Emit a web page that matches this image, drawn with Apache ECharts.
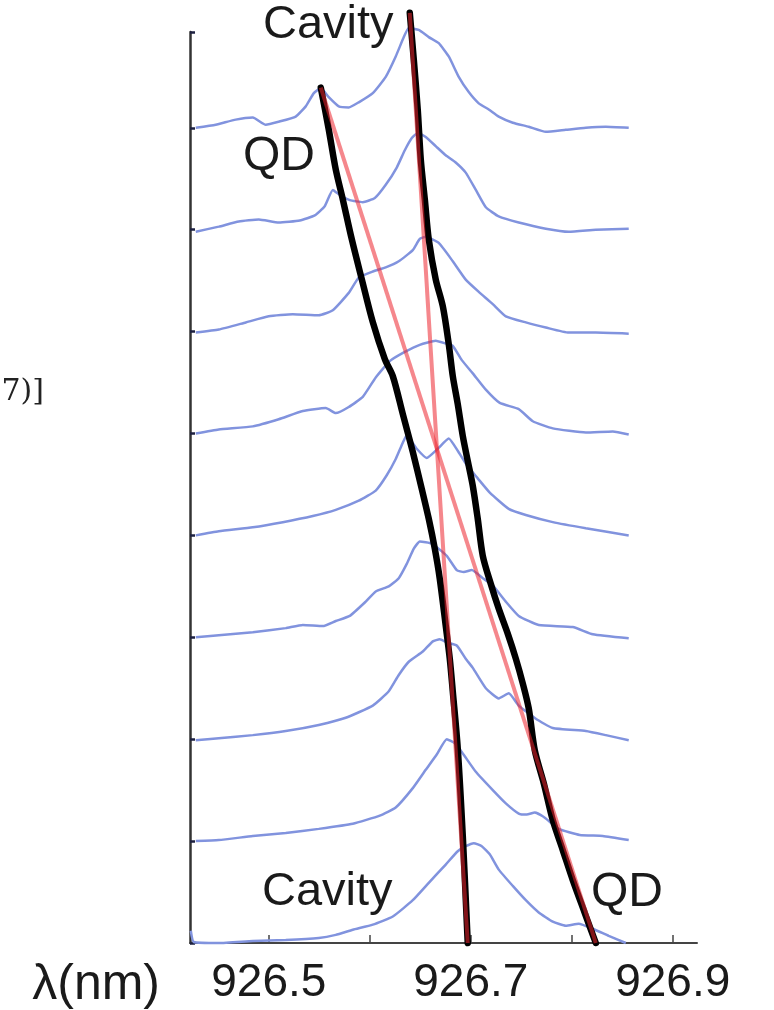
<!DOCTYPE html>
<html>
<head>
<meta charset="utf-8">
<script src="https://cdn.jsdelivr.net/npm/echarts@6/dist/echarts.min.js"></script>
<style>
html,body{margin:0;padding:0;background:#fff;}
#chart{width:774px;height:1010px;}
</style>
</head>
<body>
<div id="chart"></div>
<script>
// ---- Data (wavelength in nm, intensity normalised to the spacing between spectra) ----
const xTickValues = [926.5, 926.6, 926.7, 926.8, 926.9];
const xLabelValues = [926.5, 926.7, 926.9];
const yTickValues = [0, 1, 2, 3, 4, 5, 6, 7, 8, 8.94];

const spectrum0 = [[926.4228,0.12],[926.4257,0.01],[926.4505,0],[926.4842,0.02],[926.5168,0.03],[926.5495,0.05],[926.5663,0.08],[926.5832,0.13],[926.6030,0.18],[926.6228,0.26],[926.6426,0.42],[926.6584,0.59],[926.6752,0.77],[926.6871,0.90],[926.6950,0.95],[926.7030,0.98],[926.7109,0.95],[926.7188,0.87],[926.7277,0.72],[926.7416,0.56],[926.7545,0.42],[926.7673,0.30],[926.7812,0.21],[926.7941,0.17],[926.8069,0.19],[926.8208,0.14],[926.8366,0.07],[926.8535,0]];
const spectrum1 = [[926.4277,0],[926.4505,0.01],[926.4842,0.05],[926.5168,0.08],[926.5495,0.12],[926.5832,0.17],[926.6099,0.25],[926.6257,0.33],[926.6426,0.52],[926.6554,0.70],[926.6663,0.85],[926.6762,1.00],[926.6842,0.96],[926.6921,0.86],[926.7050,0.68],[926.7218,0.50],[926.7347,0.37],[926.7475,0.27],[926.7554,0.26],[926.7634,0.28],[926.7733,0.23],[926.7871,0.12],[926.8079,0.06],[926.8307,0.05],[926.8564,0.01]];
const spectrum2 = [[926.4277,-0.01],[926.4505,0.01],[926.4842,0.04],[926.5168,0.08],[926.5495,0.14],[926.5762,0.21],[926.6030,0.33],[926.6188,0.47],[926.6287,0.63],[926.6386,0.76],[926.6525,0.86],[926.6624,0.96],[926.6693,0.98],[926.6762,0.95],[926.6861,0.92],[926.6950,0.79],[926.7020,0.70],[926.7149,0.50],[926.7277,0.40],[926.7376,0.45],[926.7475,0.33],[926.7644,0.20],[926.7812,0.11],[926.8139,0.08],[926.8337,0.04],[926.8564,-0.01]];
const spectrum3 = [[926.4277,0],[926.4505,0.02],[926.4842,0.05],[926.5168,0.09],[926.5337,0.12],[926.5535,0.11],[926.5663,0.16],[926.5802,0.21],[926.5960,0.35],[926.6059,0.45],[926.6188,0.50],[926.6287,0.58],[926.6366,0.72],[926.6436,0.87],[926.6495,0.94],[926.6614,0.92],[926.6762,0.80],[926.6861,0.66],[926.6931,0.64],[926.7010,0.66],[926.7119,0.58],[926.7218,0.51],[926.7347,0.35],[926.7475,0.21],[926.7673,0.12],[926.8010,0.10],[926.8208,0.03],[926.8564,-0.01]];
const spectrum4 = [[926.4277,0],[926.4505,0.04],[926.4842,0.08],[926.5139,0.13],[926.5436,0.19],[926.5663,0.25],[926.5891,0.34],[926.6059,0.44],[926.6168,0.59],[926.6257,0.75],[926.6327,0.91],[926.6366,0.98],[926.6465,0.85],[926.6564,0.76],[926.6673,0.85],[926.6782,0.95],[926.6871,0.83],[926.6960,0.69],[926.7069,0.56],[926.7188,0.42],[926.7376,0.26],[926.7545,0.20],[926.7812,0.13],[926.8139,0.07],[926.8564,0]];
const spectrum5 = [[926.4277,0],[926.4505,0.04],[926.4842,0.07],[926.5099,0.14],[926.5337,0.22],[926.5564,0.25],[926.5663,0.20],[926.5792,0.26],[926.5931,0.36],[926.6059,0.55],[926.6198,0.71],[926.6347,0.80],[926.6495,0.87],[926.6653,0.91],[926.6762,0.88],[926.6822,0.86],[926.6911,0.72],[926.7020,0.59],[926.7149,0.43],[926.7287,0.30],[926.7475,0.24],[926.7614,0.12],[926.7812,0.05],[926.8139,0.01],[926.8406,0.02],[926.8564,-0.01]];
const spectrum6 = [[926.4277,-0.01],[926.4505,0.02],[926.4772,0.09],[926.5000,0.15],[926.5238,0.17],[926.5495,0.16],[926.5634,0.21],[926.5792,0.38],[926.5891,0.53],[926.6030,0.59],[926.6158,0.63],[926.6287,0.69],[926.6426,0.80],[926.6495,0.91],[926.6554,0.93],[926.6683,0.87],[926.6822,0.69],[926.6950,0.51],[926.7079,0.39],[926.7218,0.27],[926.7347,0.15],[926.7545,0.09],[926.7743,0.04],[926.7970,-0.01],[926.8238,-0.01],[926.8564,-0.02]];
const spectrum7 = [[926.4277,-0.02],[926.4505,0.03],[926.4703,0.08],[926.4901,0.10],[926.5099,0.07],[926.5307,0.09],[926.5455,0.14],[926.5554,0.23],[926.5634,0.39],[926.5703,0.34],[926.5802,0.29],[926.5931,0.27],[926.6050,0.31],[926.6158,0.44],[926.6267,0.61],[926.6347,0.78],[926.6416,0.90],[926.6475,0.95],[926.6554,0.91],[926.6653,0.82],[926.6752,0.73],[926.6851,0.66],[926.6950,0.56],[926.7050,0.39],[926.7149,0.22],[926.7277,0.13],[926.7475,0.07],[926.7743,0.01],[926.7970,-0.02],[926.8238,0],[926.8564,0.01]];
const spectrum8 = [[926.4277,0],[926.4475,0.03],[926.4673,0.08],[926.4842,0.10],[926.4970,0.03],[926.5099,0.06],[926.5267,0.11],[926.5366,0.21],[926.5446,0.34],[926.5515,0.39],[926.5594,0.30],[926.5693,0.21],[926.5792,0.20],[926.5891,0.25],[926.6030,0.34],[926.6158,0.50],[926.6257,0.70],[926.6337,0.89],[926.6386,0.98],[926.6485,0.96],[926.6584,0.89],[926.6683,0.83],[926.6782,0.70],[926.6881,0.50],[926.6980,0.35],[926.7079,0.24],[926.7178,0.18],[926.7277,0.11],[926.7416,0.05],[926.7574,0.01],[926.7743,-0.04],[926.7941,-0.02],[926.8139,0],[926.8337,0.01],[926.8564,0]];
const spectraList = [spectrum0, spectrum1, spectrum2, spectrum3, spectrum4, spectrum5, spectrum6, spectrum7, spectrum8];
const spectraOffsets = [0, 1, 2, 3, 4, 5, 6, 7, 8];

// coupled-mode branches (black), [wavelength, position on stack]
const branchLower = [[926.5515,8.394],[926.5594,7.982],[926.5663,7.591],[926.5733,7.297],[926.5822,6.905],[926.5921,6.513],[926.6030,6.092],[926.6149,5.730],[926.6228,5.563],[926.6327,5.191],[926.6426,4.819],[926.6515,4.456],[926.6584,4.163],[926.6644,3.869],[926.6693,3.575],[926.6752,3.115],[926.6792,2.791],[926.6822,2.468],[926.6871,1.910],[926.6921,1.048],[926.6970,0]];
const branchUpper = [[926.6396,9.128],[926.6436,8.668],[926.6475,8.178],[926.6505,7.689],[926.6545,7.297],[926.6584,6.905],[926.6653,6.513],[926.6723,6.249],[926.6782,5.877],[926.6822,5.563],[926.6871,5.289],[926.6921,4.975],[926.6970,4.731],[926.7020,4.486],[926.7069,4.163],[926.7119,3.800],[926.7198,3.526],[926.7277,3.281],[926.7366,3.036],[926.7446,2.791],[926.7515,2.547],[926.7574,2.302],[926.7634,1.890],[926.7723,1.567],[926.7812,1.205],[926.7911,0.911],[926.8010,0.617],[926.8129,0.294],[926.8238,0]];
// uncoupled QD and cavity lines (red)
const qdLine = [[926.5515,8.394],[926.8238,0]];
const cavityLine = [[926.6396,9.128],[926.6970,0]];

const chart = echarts.init(document.getElementById('chart'), null, {renderer:'canvas'});

const series = [];
spectraList.forEach((sp, i) => {
  series.push({
    type:'line', name:'spectrum'+i, showSymbol:false, symbol:'none', clip:false, smooth:0.15,
    lineStyle:{color:'#8193de', width:2.5},
    data: sp.map(p => [p[0], spectraOffsets[i] + p[1]]),
    z:2
  });
});
[branchLower, branchUpper].forEach((b, k) => {
  series.push({type:'line', name:'branch'+k, symbol:'none', clip:false, smooth:0.3,
    lineStyle:{color:'#000', width:6.5, cap:'round', join:'round'}, data:b, z:3});
});
[qdLine, cavityLine].forEach((b, k) => {
  series.push({type:'line', name:'bare'+k, symbol:'none', clip:false,
    lineStyle:{color:'rgb(236,36,45)', width:4, opacity:0.55}, data:b, z:4});
});

const textFont = '"Liberation Sans", Arial, sans-serif';

chart.setOption({
  animation:false,
  backgroundColor:'#fff',
  grid:{left:190, right:77, top:32, bottom:65},
  xAxis:{
    type:'value', min:926.422, max:926.924,
    name:'λ(nm)', nameLocation:'start', nameGap:30,
    nameTextStyle:{fontFamily:textFont, fontSize:50, color:'#1a1a1a', verticalAlign:'top', padding:[17,0,0,0]},
    axisLine:{show:true, lineStyle:{color:'#444', width:2}},
    axisTick:{show:true, inside:true, length:8, customValues:xTickValues, lineStyle:{color:'#444', width:1.5}},
    axisLabel:{show:true, customValues:xLabelValues, margin:17, fontFamily:textFont, fontSize:46, color:'#1a1a1a',
      formatter:v => v.toFixed(1)},
    splitLine:{show:false}
  },
  yAxis:{
    type:'value', min:0, max:8.94,
    axisLine:{show:true, lineStyle:{color:'#333', width:2.5}},
    axisTick:{show:true, inside:true, length:5, customValues:yTickValues, lineStyle:{color:'#1d2040', width:2.5}},
    axisLabel:{show:false},
    splitLine:{show:false}
  },
  graphic:[
    {type:'text', x:263, y:25, style:{text:'Cavity', font:'47px "Liberation Sans", Arial, sans-serif', fill:'#1a1a1a', verticalAlign:'middle', align:'left'}, z:10},
    {type:'text', x:243, y:157, style:{text:'QD', font:'48px "Liberation Sans", Arial, sans-serif', fill:'#1a1a1a', verticalAlign:'middle', align:'left'}, z:10},
    {type:'text', x:262, y:892, style:{text:'Cavity', font:'47px "Liberation Sans", Arial, sans-serif', fill:'#1a1a1a', verticalAlign:'middle', align:'left'}, z:10},
    {type:'text', x:591, y:893, style:{text:'QD', font:'48px "Liberation Sans", Arial, sans-serif', fill:'#1a1a1a', verticalAlign:'middle', align:'left'}, z:10},
    {type:'text', x:44, y:392, style:{text:'(2007)]', font:'30px "DejaVu Serif", "Liberation Serif", serif', fill:'#222', verticalAlign:'middle', align:'right'}, z:10}
  ],
  series: series
});
</script>
</body>
</html>
